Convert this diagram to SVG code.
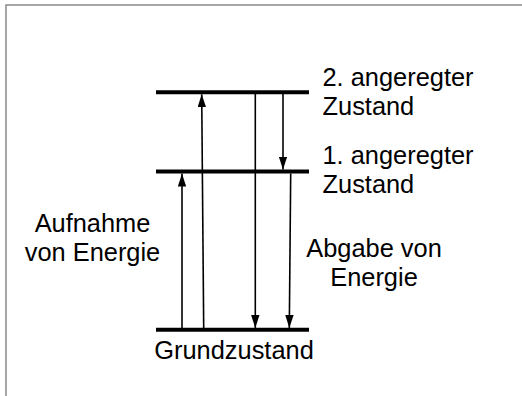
<svg xmlns="http://www.w3.org/2000/svg" width="522" height="396" viewBox="0 0 522 396">
  <style>
    .frame { stroke: #8a8a8a; stroke-width: 1.5; fill: none; }
    .level { stroke: #000; stroke-width: 4; fill: none; }
    .arrow { stroke: #000; stroke-width: 1.6; fill: none; marker-end: url(#head); }
    text { font-family: "Liberation Sans", Arial, sans-serif; font-size: 25.4px; fill: #000; }
    .mid { text-anchor: middle; }
  </style>
  <defs>
    <marker id="head" markerUnits="userSpaceOnUse" markerWidth="13" markerHeight="8.4" viewBox="0 0 13 8.4" refX="13" refY="4.2" orient="auto">
      <path d="M0,0 L13,4.2 L0,8.4 Z" fill="#000"/>
    </marker>
  </defs>

  <!-- frame -->
  <path class="frame" d="M6,396 V5 H522"/>

  <!-- energy levels -->
  <g id="level-2">
    <line class="level" x1="156" y1="92.2" x2="309" y2="92.2"/>
    <text x="322.5" y="86">2. angeregter</text>
    <text x="322.5" y="115">Zustand</text>
  </g>
  <g id="level-1">
    <line class="level" x1="156" y1="171.5" x2="309" y2="171.5"/>
    <text x="322.5" y="163.5">1. angeregter</text>
    <text x="322.5" y="192.7">Zustand</text>
  </g>
  <g id="level-0">
    <line class="level" x1="156" y1="329.8" x2="309" y2="329.8"/>
    <text class="mid" x="234" y="359">Grundzustand</text>
  </g>

  <g id="label-absorption">
    <text class="mid" x="92.5" y="232.3">Aufnahme</text>
    <text class="mid" x="92.5" y="261">von Energie</text>
  </g>
  <g id="label-emission">
    <text class="mid" x="374" y="256.7">Abgabe von</text>
    <text class="mid" x="374" y="286">Energie</text>
  </g>

  <!-- transitions -->
  <g id="connectors">
    <line class="arrow" x1="182" y1="328" x2="182" y2="173.5"/>
    <line class="arrow" x1="203.7" y1="328" x2="201.7" y2="94.2"/>
    <line class="arrow" x1="255.3" y1="94" x2="255.3" y2="328"/>
    <line class="arrow" x1="283" y1="94" x2="283" y2="169.6"/>
    <line class="arrow" x1="290.7" y1="173.5" x2="289.3" y2="328"/>
  </g>
</svg>
